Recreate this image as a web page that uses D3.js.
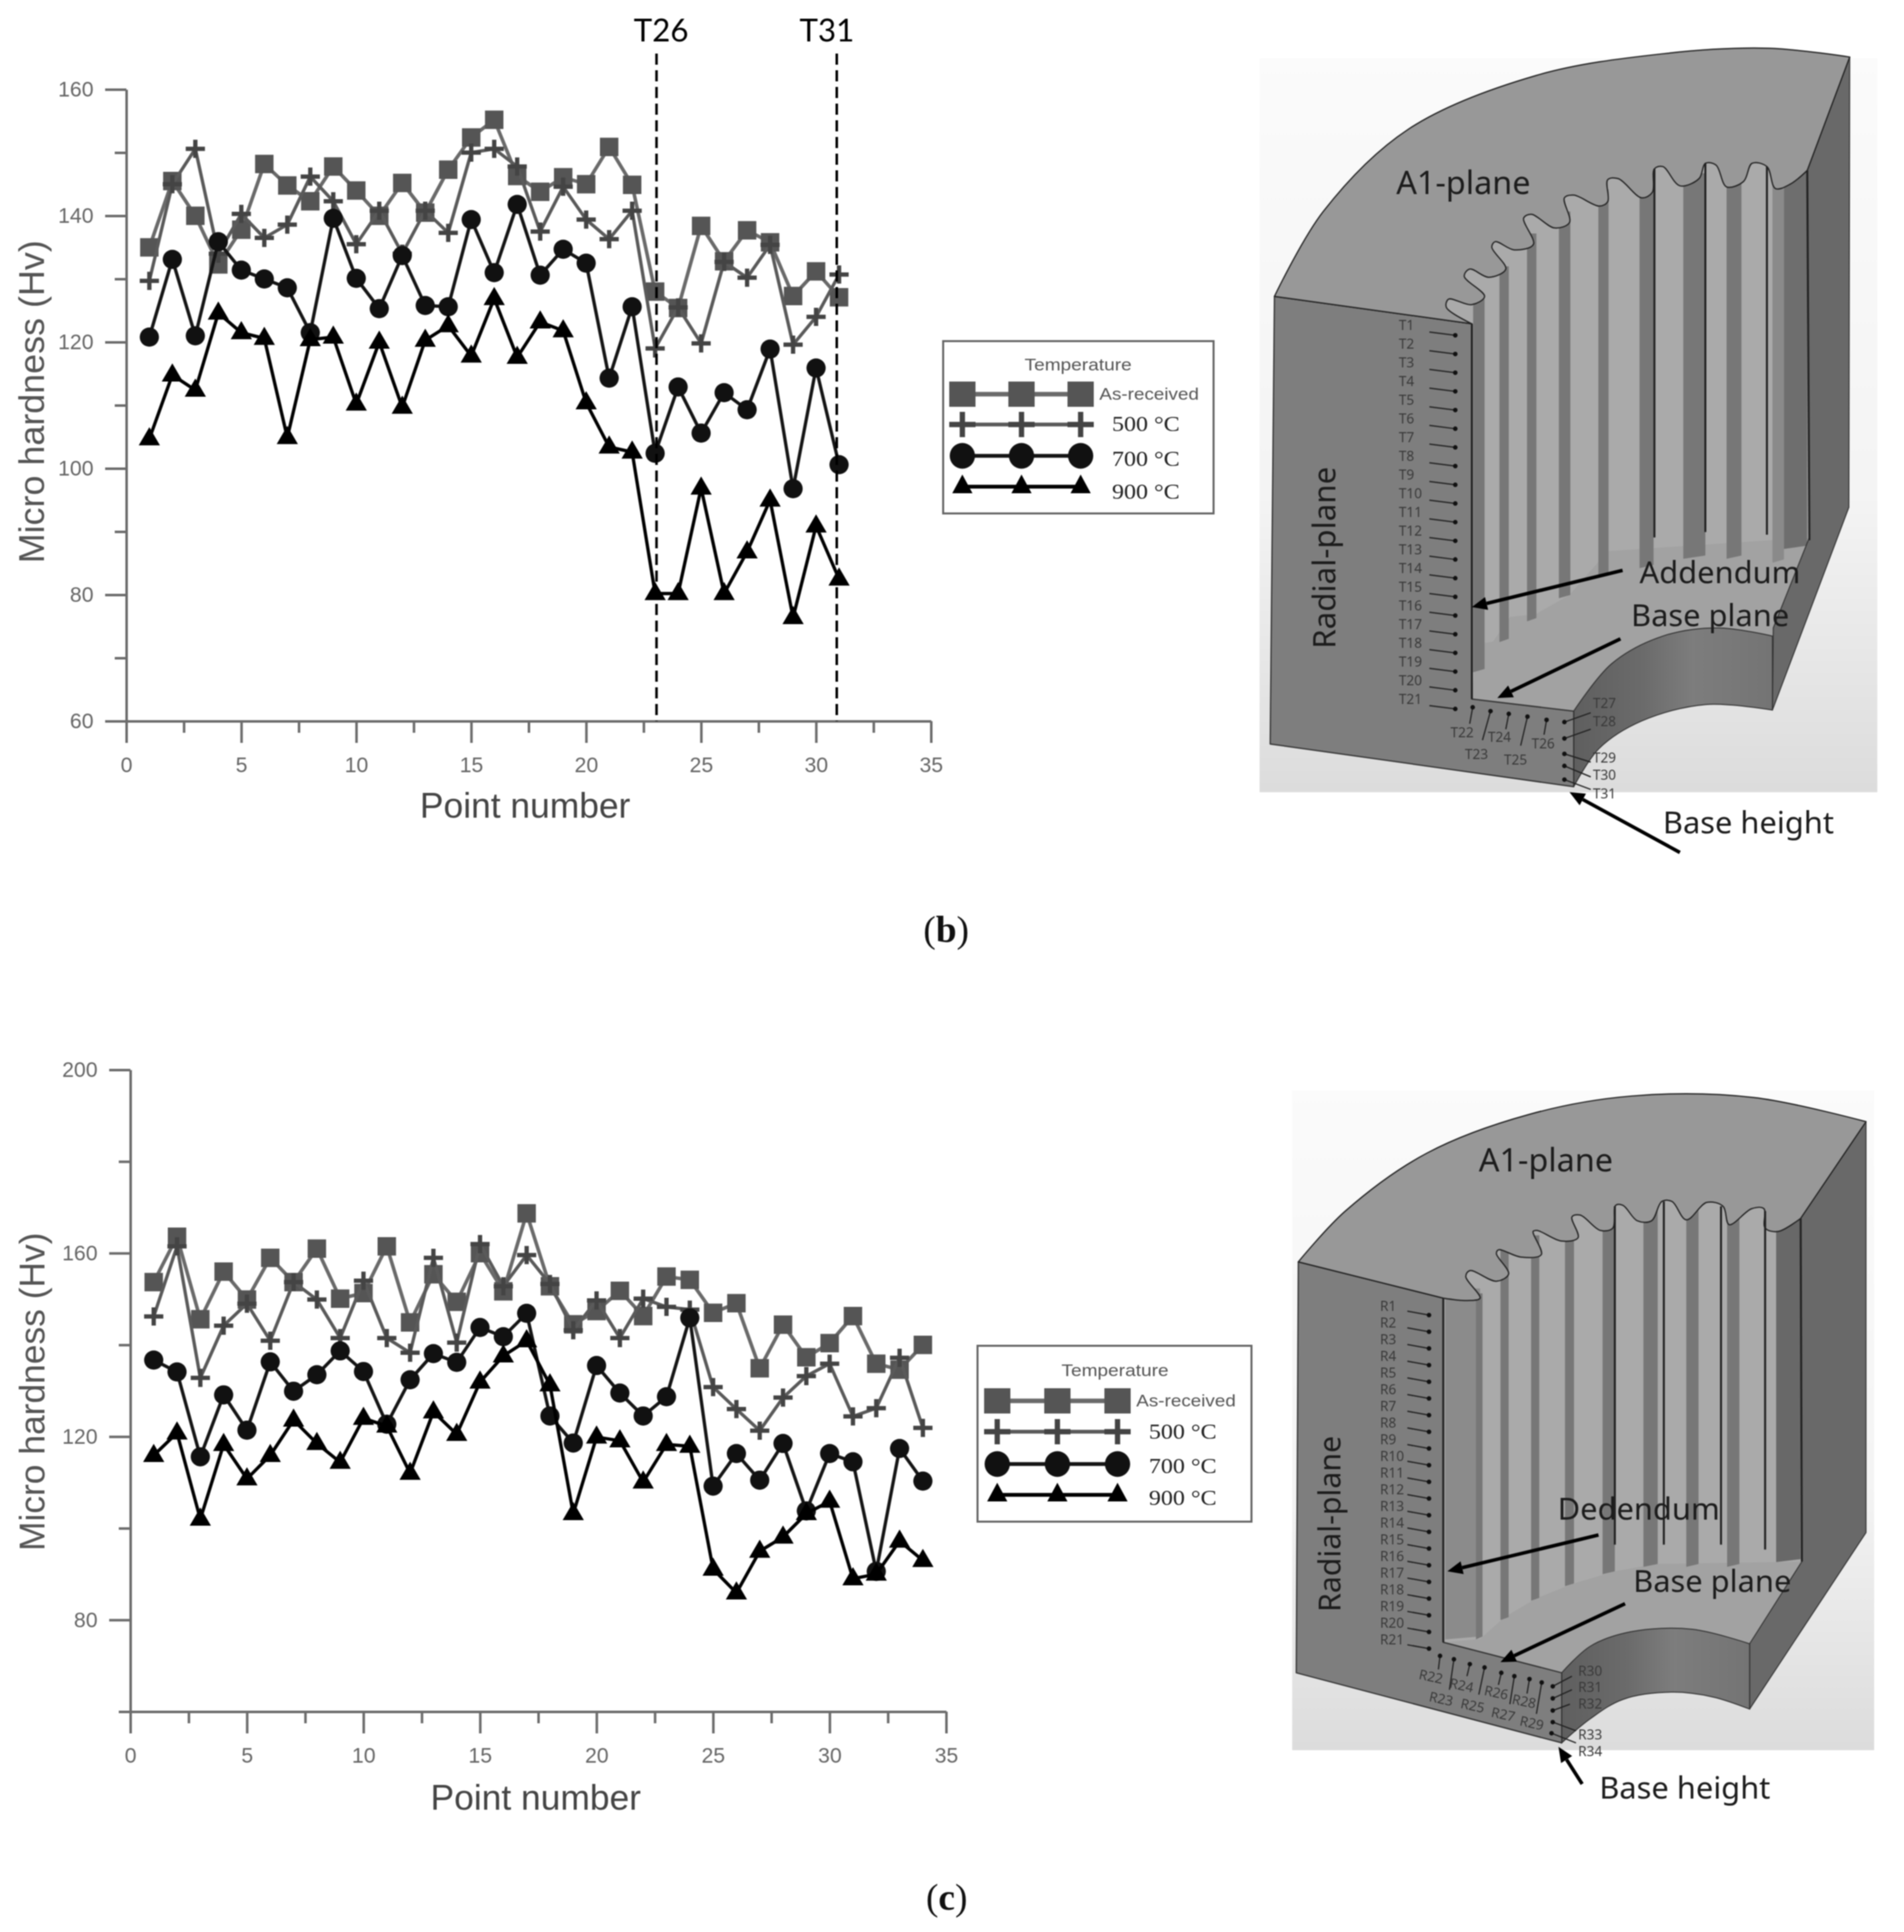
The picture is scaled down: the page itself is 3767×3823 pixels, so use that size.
<!DOCTYPE html>
<html><head><meta charset="utf-8"><style>html,body{margin:0;background:#fff}svg{display:block;filter:blur(1.1px)}</style>
<script src="https://cdn.jsdelivr.net/npm/d3@7/dist/d3.min.js"></script></head><body>
<script>
const pointsB = d3.range(1, 32), pointsC = d3.range(1, 35);
const seriesNames = ["As-received", "500 °C", "700 °C", "900 °C"];
const legendTitle = "Temperature";
const xTickValues = [0,5,10,15,20,25,30,35];
const b_asReceived = [135,145.5,140,132.3,137.8,148.2,144.8,142.3,147.8,144,140,145.2,140.5,147.3,152.4,155.2,146.3,143.8,146.1,145,150.9,144.9,128,125.4,138.4,132.8,137.7,135.8,127.3,131.2,127.1];
const b_500 = [129.7,145,150.6,134,140.3,136.5,138.6,146.2,142.3,135.5,140.8,134,140.8,137.3,150,150.6,147.8,137.5,144.6,139.4,136.3,140.8,119,125.5,119.8,132.7,130.2,135.4,119.6,124,130.7];
const b_700 = [120.8,133.1,121,135.9,131.4,130,128.6,121.5,139.6,130.1,125.3,133.7,125.8,125.6,139.4,131,141.8,130.6,134.7,132.5,114.3,125.6,102.4,112.9,105.6,112,109.3,118.9,96.8,115.9,100.6];
const b_900 = [104.7,114.8,112.4,124.6,121.5,120.6,104.9,120.4,120.8,110.2,120,109.7,120.3,122.6,117.8,126.9,117.6,123.2,121.8,110.4,103.4,102.6,80.2,80.2,96.9,80.2,86.8,95,76.4,90.9,82.5];
const c_asReceived = [153.7,163.6,145.6,156,149.9,159,153.7,161,150.1,151.3,161.5,144.9,155.4,149.4,160,151.7,168.7,152.8,144.5,147.4,151.8,146.3,154.9,154.2,147,149.1,134.9,144.4,137.3,140.4,146.3,135.9,134.6,140];
const c_500 = [146.2,161.5,132.8,144.2,149,140.9,153.7,149.9,141.5,154,141.5,138.3,159,140.5,162,152.8,159.6,153.3,143.2,149.7,141.5,150.1,148.3,147.7,130.8,126,121.3,128.5,133.2,135.9,124.4,126.2,137.2,121.9];
const c_700 = [136.7,134.1,115.6,129.1,121.4,136.3,129.9,133.5,138.7,134.2,122.7,132.4,138.1,136.2,143.8,141.8,146.9,124.5,118.6,135.5,129.5,124.5,128.7,145.9,109.2,116.3,110.5,118.5,103.8,116.3,114.5,90.6,117.4,110.3];
const c_900 = [115.9,120.8,102,118.3,110.8,115.9,123.6,118.5,114.4,124,122.3,112,125.4,120.5,131.9,137.6,140.9,131.3,103.2,119.9,119.1,110.1,118.3,117.9,91.1,85.9,95,98.1,103.2,105.9,89,90,97.2,93];
const labelsT = d3.range(1,32).map(i=>"T"+i);
const labelsR = d3.range(1,35).map(i=>"R"+i);

const SANS='"Liberation Sans",Arial,sans-serif', SERIF='"Liberation Serif",serif', NOTO='"Noto Sans",sans-serif';
const svg=d3.select("body").append("svg").attr("width",3767).attr("height",3823).attr("viewBox","0 0 3767 3823");
svg.append("rect").attr("width",3767).attr("height",3823).attr("fill","#fff");
const defs=svg.append("defs");
[["bgB"],["bgC"]].forEach(([id])=>{
  const g=defs.append("linearGradient").attr("id",id).attr("x1",0).attr("x2",0).attr("y1",0).attr("y2",1);
  g.append("stop").attr("offset","0").attr("stop-color","#fbfbfb");
  g.append("stop").attr("offset","0.6").attr("stop-color","#f4f4f4");
  g.append("stop").attr("offset","1").attr("stop-color","#dcdcdc");
});
const cyl=defs.append("linearGradient").attr("id","cyl").attr("x1",0).attr("x2",1).attr("y1",0).attr("y2",0);
[["0","#5f5f5f"],["0.35","#6b6b6b"],["0.6","#7d7d7d"],["1","#747474"]].forEach(([o,c])=>cyl.append("stop").attr("offset",o).attr("stop-color",c));

const styles=[
 {line:"#6a6a6a",lw:7,fill:"#555",kind:"square"},
 {line:"#5a5a5a",lw:6.5,fill:"#444",kind:"plus"},
 {line:"#151515",lw:6.5,fill:"#111",kind:"circle"},
 {line:"#000",lw:6.5,fill:"#000",kind:"tri"}];
function marker(sel,kind,fill,px,py,k=1){
  const g=sel.append("g").attr("transform",`translate(${px},${py})`);
  if(kind==="square") g.append("path").attr("d",d3.symbol(d3.symbolSquare,37*36*k*k)()).attr("fill",fill);
  if(kind==="circle") g.append("path").attr("d",d3.symbol(d3.symbolCircle,Math.PI*19*19*k*k)()).attr("fill",fill);
  if(kind==="plus") g.append("path").attr("d",`M${-19*k},0H${19*k}M0,${-18*k}V${18*k}`).attr("stroke",fill).attr("stroke-width",8.5*k).attr("fill","none");
  if(kind==="tri") g.append("path").attr("d",`M0,${-23*k}L${21*k},${13*k}H${-21*k}Z`).attr("fill",fill);
}
function chart(c){
  const x=d3.scaleLinear().domain([0,35]).range([c.x0,c.x1]);
  const y=d3.scaleLinear().domain(c.yDomain).range([c.y0,c.y1]);
  const root=svg.append("g");
  const xMinor=d3.range(2.5,35,5);
  const xax=d3.axisBottom(x).tickValues(d3.merge([xTickValues,xMinor])).tickSize(43).tickSizeOuter(0).tickPadding(28).tickFormat(v=>xTickValues.includes(v)?v:"");
  const yax=d3.axisLeft(y).tickValues(c.yAll).tickSize(42).tickSizeOuter(0).tickPadding(23).tickFormat(v=>c.yMajor.includes(v)?v:"");
  const gx=root.append("g").attr("transform",`translate(0,${c.y0})`).call(xax);
  const gy=root.append("g").attr("transform",`translate(${c.x0},0)`).call(yax);
  gx.selectAll(".tick line").filter(v=>!xTickValues.includes(v)).attr("y2",23);
  gy.selectAll(".tick line").filter(v=>!c.yMajor.includes(v)).attr("x2",-23);
  [gx,gy].forEach(a=>{a.selectAll("path,line").attr("stroke","#6c6c6c").attr("stroke-width",5);
    a.selectAll("text").attr("fill","#666").attr("font-family",SANS).attr("font-size",42);});
  root.append("text").attr("transform",`translate(${c.ytX},${c.ytY}) rotate(-90)`).attr("text-anchor","middle").attr("font-family",SANS).attr("font-size",c.ytFs).attr("fill","#555").attr("dominant-baseline","central").text("Micro hardness (Hv)");
  root.append("text").attr("x",c.xtX).attr("y",c.xtY).attr("text-anchor","middle").attr("font-family",SANS).attr("font-size",70).attr("fill","#444").text("Point number");
  const ln=d3.line().x(d=>x(d[0])).y(d=>y(d[1]));
  c.series.forEach((vals,i)=>{
    const st=styles[i], pts=vals.map((v,j)=>[c.points[j],v]);
    root.append("path").attr("d",ln(pts)).attr("fill","none").attr("stroke",st.line).attr("stroke-width",st.lw).attr("stroke-linejoin","round");
    pts.forEach(p=>marker(root,st.kind,st.fill,x(p[0]),y(p[1])));
  });
  return {x,y,root};
}
function legend(l){
  const g=svg.append("g");
  g.append("rect").attr("x",l.x).attr("y",l.y).attr("width",l.w).attr("height",l.h).attr("fill","#fff").attr("stroke","#666").attr("stroke-width",4);
  g.append("text").attr("x",l.titleX).attr("y",l.titleY).attr("text-anchor","middle").attr("font-family",SANS).attr("font-size",33).attr("fill","#555").attr("textLength",212).attr("lengthAdjust","spacingAndGlyphs").text(legendTitle);
  seriesNames.forEach((n,i)=>{
    const st=styles[i],yy=l.rows[i];
    g.append("line").attr("x1",l.mx[0]).attr("x2",l.mx[2]).attr("y1",yy).attr("y2",yy).attr("stroke",st.line).attr("stroke-width",i===0?9:7.5);
    l.mx.forEach(m=>{
      if(st.kind==="square") g.append("rect").attr("x",m-26).attr("y",yy-25).attr("width",52).attr("height",50).attr("fill",st.fill);
      if(st.kind==="plus") g.append("path").attr("d",`M${m-26},${yy}H${m+26}M${m},${yy-25}V${yy+25}`).attr("stroke",st.fill).attr("stroke-width",10.5).attr("fill","none");
      if(st.kind==="circle") g.append("ellipse").attr("cx",m).attr("cy",yy).attr("rx",25).attr("ry",25.5).attr("fill",st.fill);
      if(st.kind==="tri") g.append("path").attr("d",`M${m},${yy-24}L${m+20},${yy+13}H${m-20}Z`).attr("fill",st.fill);
    });
    const t=g.append("text").text(n).attr("lengthAdjust","spacingAndGlyphs");
    if(i===0) t.attr("x",l.recX).attr("y",yy+11).attr("font-family",SANS).attr("font-size",33).attr("fill","#555").attr("textLength",197);
    else t.attr("x",l.degX).attr("y",l.base[i-1]).attr("font-family",SERIF).attr("font-size",42).attr("fill","#222").attr("textLength",134);
  });
}
function subLabel(letter,cx,base){
  const t=svg.append("text").attr("x",cx).attr("y",base).attr("text-anchor","middle").attr("font-family",SERIF).attr("font-size",74).attr("fill","#111");
  t.append("tspan").text("(");t.append("tspan").attr("font-weight","bold").text(letter);t.append("tspan").text(")");
}
// ---------- illustration ----------
function gear(g){
  const P=p=>[g.ox+p[0]*g.sx,g.oy+p[1]*g.sy];
  const root=svg.append("g");
  const poly=(pts,fill,stroke,sw)=>root.append("path").attr("d",d3.line()(pts.map(P))+"Z").attr("fill",fill).attr("stroke",stroke||"none").attr("stroke-width",sw||0).attr("stroke-linejoin","round");
  const curve=pts=>d3.line().curve(d3.curveCatmullRom.alpha(.5))(pts.map(P));
  const [bx0,by0]=P(g.bg[0]),[bx1,by1]=P(g.bg[1]);
  root.append("rect").attr("x",bx0).attr("y",by0).attr("width",bx1-bx0).attr("height",by1-by0).attr("fill",`url(#${g.bgId})`);
  // inner wall and base plane
  poly(g.wall,"#aaa");
  poly(g.base,"#a2a2a2");
  g.stripes.forEach(s=>poly([[s[0],s[2]],[s[1],s[2]],[s[1],s[3]],[s[0],s[3]+6]],s[4]||"#777"));
  poly(g.right,"#696969","#333",2);
  // hole cylinder
  const cylPath=curve(g.cylTop)+"L"+curve(g.cylBot).slice(1)+"Z";
  root.append("path").attr("d",cylPath).attr("fill","url(#cyl)").attr("stroke","#333").attr("stroke-width",2);
  poly(g.front,"#7e7e7e","#333",2.5);
  // top face
  const top=curve(g.outer)+"L"+curve(g.teeth).slice(1)+"Z";
  root.append("path").attr("d",top).attr("fill","#989898").attr("stroke","#222").attr("stroke-width",2.5).attr("stroke-linejoin","round");
  g.edges.forEach(e=>root.append("path").attr("d",d3.line()(e.map(P))).attr("stroke","#222").attr("stroke-width",4).attr("fill","none"));
  // measurement labels, leaders, dots
  g.marks.forEach(m=>{
    const [tx,ty]=P(m.t),[dx,dy]=P(m.d),[ax,ay]=P(m.a);
    root.append("line").attr("x1",ax).attr("y1",ay).attr("x2",dx).attr("y2",dy).attr("stroke","#222").attr("stroke-width",2.5);
    root.append("circle").attr("cx",dx).attr("cy",dy).attr("r",4.5).attr("fill","#111");
    root.append("text").attr("x",tx).attr("y",ty).attr("text-anchor",m.anchor||"start").attr("dominant-baseline","central")
      .attr("transform",m.rot?`rotate(${m.rot},${tx},${ty})`:null)
      .attr("font-family",NOTO).attr("font-size",27).attr("fill","#3a3a3a").text(m.label);
  });
  // callouts
  g.arrows.forEach(a=>{
    const [x1,y1]=P(a[0]),[x2,y2]=P(a[1]);
    const ang=Math.atan2(y2-y1,x2-x1),L=30,W=13;
    const bx=x2-L*Math.cos(ang),by=y2-L*Math.sin(ang);
    root.append("line").attr("x1",x1).attr("y1",y1).attr("x2",bx).attr("y2",by).attr("stroke","#000").attr("stroke-width",7);
    root.append("path").attr("d",`M${x2},${y2}L${bx-W*Math.sin(ang)},${by+W*Math.cos(ang)}L${bx+W*Math.sin(ang)},${by-W*Math.cos(ang)}Z`).attr("fill","#000");
  });
  g.texts.forEach(t=>{
    const [x,y]=P(t.p);
    const el=root.append("text").attr("font-family",NOTO).attr("font-size",t.fs||61).attr("fill","#1c1c1c").text(t.s);
    if(t.rot) el.attr("transform",`translate(${x},${y}) rotate(${t.rot})`).attr("text-anchor","middle").attr("dominant-baseline","central");
    else el.attr("x",x).attr("y",y);
  });
}
// ---------- panel b ----------
const cb=chart({x0:250,x1:1842,y0:1427,y1:177,yDomain:[60,160],yAll:d3.range(60,161,10),yMajor:[60,80,100,120,140,160],
  points:pointsB,series:[b_asReceived,b_500,b_700,b_900],ytX:62,ytY:795,ytFs:71,xtX:1039,xtY:1618});
[[23.06,"T26",1308],[30.9,"T31",1636]].forEach(d=>{
  svg.append("line").attr("x1",cb.x(d[0])).attr("x2",cb.x(d[0])).attr("y1",106).attr("y2",1427).attr("stroke","#000").attr("stroke-width",5).attr("stroke-dasharray","22 11");
  svg.append("text").attr("x",d[2]).attr("y",82).attr("text-anchor","middle").attr("font-family",'Lato,sans-serif').attr("font-size",62).attr("fill","#000").text(d[1]);
});
legend({x:1866,y:675,w:535,h:341,titleX:2133,titleY:733,mx:[1904,2021,2138],rows:[780,840,902,963],recX:2175,degX:2200,base:[853,922,987]});
subLabel("b",1872,1864);

const leftB=labelsT.slice(0,21).map((s,i)=>{const y=547+i*34.1;return {label:s,t:[378,y],d:[511,y+19],a:[450,y+13]};});
const baseB=[[527,1290,552,1245,545,1275],[561,1330,594,1252,575,1305],[615,1298,637,1257,630,1285],[653,1340,681,1262,665,1315],[718,1310,726,1268,720,1295]]
  .map((m,i)=>({label:labelsT[21+i],t:[m[0],m[1]],anchor:"middle",d:[m[2],m[3]],a:[m[4],m[5]]}));
const sideB=[[1237,768,1272,830,1255],[1270,768,1302,830,1285],[1336,768,1330,830,1345],[1368,768,1352,830,1372],[1402,768,1377,830,1395]]
  .map((m,i)=>({label:labelsT[26+i],t:[835,m[0]],d:[m[1],m[2]],a:[m[3],m[4]]}));
gear({ox:2450,oy:50,sx:.84,sy:1.084,bgId:"bgB",bg:[[50,60],[1505,1400]],
  outer:[[85,495],[200,340],[400,190],[700,92],[1000,52],[1250,42],[1440,58]],
  teeth:[[1340,265],[1300,290],[1265,298],[1245,258],[1210,252],[1190,285],[1150,295],[1125,255],[1100,252],[1085,280],[1040,293],[1000,258],[980,262],[975,305],[950,315],[895,280],[870,282],[870,322],[850,330],[790,310],[768,315],[780,360],[745,370],[690,345],[672,352],[695,400],[650,410],[605,395],[597,405],[630,445],[590,460],[545,445],[532,458],[580,495],[550,510],[495,500],[490,515],[550,545]],
  wall:[[470,490],[520,420],[600,350],[800,260],[1000,220],[1340,220],[1345,950],[1250,1110],[800,1240],[550,1230]],
  base:[[550,1230],[560,1130],[600,1125],[640,1080],[700,1075],[780,1040],[870,960],[1350,935],[1258,1120],[800,1255]],
  stripes:[[553,580,500,1175],[615,637,440,1120],[680,702,380,1082],[755,782,340,1040],[848,872,300,1000],[945,978,280,985],[1048,1100,270,968],[1150,1185,270,968],[1258,1285,270,975,"#8a8a8a"],[1285,1340,260,950,"#6e6e6e"]],
  right:[[1440,58],[1340,265],[1345,935],[1260,1100],[1258,1250],[1438,880]],
  cylTop:[[790,1252],[880,1165],[1000,1115],[1130,1100],[1258,1115]],
  cylBot:[[1258,1250],[1100,1240],[950,1270],[850,1320],[790,1390]],
  front:[[85,495],[550,545],[550,1230],[790,1252],[790,1390],[75,1312]],
  edges:[[[550,545],[550,1230]],[[980,262],[980,935]],[[1100,252],[1100,925]],[[1245,258],[1245,930]],[[1340,265],[1345,940]]],
  marks:[...leftB,...baseB,...sideB],
  arrows:[[[905,995],[550,1062]],[[900,1120],[610,1228]],[[1040,1510],[780,1400]]],
  texts:[{s:"A1-plane",p:[372,308],fs:64},{s:"Radial-plane",p:[200,972],rot:-90,fs:62},{s:"Addendum",p:[945,1018]},{s:"Base plane",p:[925,1097]},{s:"Base height",p:[1000,1475]}]
});
// ---------- panel c ----------
chart({x0:258,x1:1872,y0:3387,y1:2117,yDomain:[60,200],yAll:d3.range(60,201,20),yMajor:[80,120,160,200],
  points:pointsC,series:[c_asReceived,c_500,c_700,c_900],ytX:64,ytY:2754,ytFs:70,xtX:1060,xtY:3581});
legend({x:1934,y:2663,w:542,h:348,titleX:2206,titleY:2723,mx:[1973,2092,2211],rows:[2772,2833,2897,2958],recX:2248,degX:2273,base:[2847,2915,2978]});
subLabel("c",1873,3779);
const leftC=labelsR.slice(0,21).map((s,i)=>{const y=505+i*34.5;return {label:s,t:[285,y],d:[405,y+20],a:[352,y+12]};});
const baseC=[[410,1272,432,1230,428,1258],[435,1318,466,1237,455,1300],[485,1290,505,1247,498,1272],[512,1332,541,1254,527,1310],[570,1305,582,1265,575,1290],[587,1350,614,1272,603,1330],[638,1323,651,1278,645,1308],[657,1368,681,1285,668,1350]]
  .map((m,i)=>({label:labelsR[21+i],t:[m[0],m[1]],anchor:"middle",rot:12,d:[m[2],m[3]],a:[m[4],m[5]]}));
const sideC=[[1260,708,1293,755,1272],[1294,708,1318,755,1300],[1328,708,1343,750,1330],[1392,708,1367,765,1385],[1426,705,1390,765,1410]]
  .map((m,i)=>({label:labelsR[29+i],t:[770,m[0]],d:[m[1],m[2]],a:[m[3],m[4]]}));
gear({ox:2500,oy:2100,sx:.808,sy:.9566,bgId:"bgC",bg:[[70,60],[1495,1425]],
  outer:[[85,415],[200,310],[400,190],[650,110],[900,72],[1200,75],[1475,125]],
  teeth:[[1315,325],[1260,352],[1228,345],[1225,305],[1195,305],[1140,338],[1125,300],[1085,292],[1035,328],[1000,290],[975,290],[950,330],[915,330],[880,298],[862,298],[855,345],[825,350],[775,318],[755,322],[770,365],[730,372],[670,350],[660,352],[680,400],[630,405],[575,390],[570,398],[600,440],[570,455],[505,433],[495,445],[530,490],[500,495],[440,490]],
  wall:[[440,470],[560,360],[800,270],[1000,260],[1315,280],[1318,1040],[1190,1210],[730,1270],[440,1202]],
  base:[[440,1202],[530,1195],[590,1150],[670,1110],[760,1080],[860,1055],[960,1040],[1318,1035],[1190,1210],[900,1190],[730,1270]],
  stripes:[[445,530,470,1190,"#8b8b8b"],[520,536,480,1190],[580,600,380,1150],[655,675,360,1110],[738,760,340,1080],[830,860,310,1055],[930,965,290,1040],[1035,1065,290,1040],[1135,1165,290,1040],[1255,1315,320,1030,"#686868"]],
  right:[[1475,125],[1315,325],[1318,1035],[1190,1205],[1190,1340],[1475,975]],
  cylTop:[[730,1265],[800,1210],[900,1180],[1050,1175],[1190,1205]],
  cylBot:[[1190,1340],[1100,1315],[1000,1305],[880,1320],[800,1360],[730,1410]],
  front:[[85,415],[440,490],[440,1202],[730,1265],[730,1410],[80,1265]],
  edges:[[[440,490],[440,1202]],[[860,300],[860,1000]],[[980,290],[980,1000]],[[1120,300],[1120,1000]],[[1228,310],[1228,1010]],[[1315,325],[1318,1035]]],
  marks:[...leftC,...baseC,...sideC],
  arrows:[[[820,980],[450,1055]],[[885,1122],[580,1243]],[[780,1495],[722,1418]]],
  texts:[{s:"A1-plane",p:[527,228],fs:64},{s:"Radial-plane",p:[160,957],rot:-90,fs:60},{s:"Dedendum",p:[720,948]},{s:"Base plane",p:[905,1098]},{s:"Base height",p:[822,1525]}]
});
</script></body></html>
